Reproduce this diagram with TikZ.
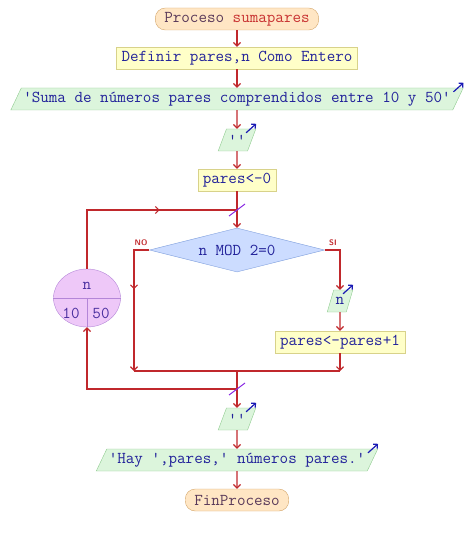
\documentclass[tikz,border=0pt]{standalone}
\usepackage{xcolor}
\usepackage{fontspec}
\usepackage{tikz}
\usetikzlibrary{shapes,arrows.meta,positioning,calc,decorations.markings}

\definecolor{flowred}{HTML}{C0282C}
\definecolor{codeblue}{HTML}{22229A}
\definecolor{kwgray}{HTML}{5A3A5A}
\definecolor{namered}{HTML}{C83232}
\definecolor{termfill}{HTML}{FFE6C4}
\definecolor{termline}{HTML}{D4A66A}
\definecolor{procfill}{HTML}{FFFFC8}
\definecolor{procline}{HTML}{D8D28A}
\definecolor{iofill}{HTML}{DCF5DC}
\definecolor{ioline}{HTML}{8FCB8F}
\definecolor{decfill}{HTML}{CCDCFF}
\definecolor{decline}{HTML}{7C9CDC}
\definecolor{loopfill}{HTML}{EEC8F8}
\definecolor{loopline}{HTML}{B486D8}
\definecolor{loopink}{HTML}{4B2FA0}
\definecolor{outblue}{HTML}{1A1AB4}
\definecolor{slashpurple}{HTML}{8A2BE2}

\newcommand{\codesize}{\ttfamily\fontsize{16.6}{19}\selectfont}

\begin{document}
\begin{tikzpicture}[x=1pt,y=-1pt,
    wire/.style={color=flowred,line width=1.2pt},
    flow/.style={wire,-{Straight Barb[length=3.5pt,width=7pt]}},
    midarrow/.style={postaction={decorate,decoration={markings,
        mark=at position #1 with {\arrow{Straight Barb[length=3.5pt,width=7pt]}}}}},
    termbox/.style={rectangle,draw=termline,fill=termfill,rounded corners=10pt,
        minimum height=22pt,inner xsep=9pt,inner ysep=2pt,font=\codesize},
    procbox/.style={rectangle,draw=procline,fill=procfill,minimum height=22pt,
        inner xsep=5pt,inner ysep=2pt,font=\codesize,text=codeblue},
    iobox/.style={trapezium,trapezium left angle=60,trapezium right angle=120,
        trapezium stretches body,draw=ioline,fill=iofill,minimum height=22pt,
        inner xsep=2pt,inner ysep=2pt,font=\codesize,text=codeblue},
    decide/.style={diamond,aspect=4,draw=decline,fill=decfill,minimum width=175pt,
        minimum height=44pt,inner sep=0pt,font=\codesize,text=codeblue},
    loopnode/.style={ellipse,draw=loopline,fill=loopfill,minimum width=67pt,
        minimum height=58pt,inner sep=0pt},
    looptext/.style={font=\codesize,text=loopink,inner sep=0pt},
    branch/.style={font=\sffamily\bfseries\fontsize{8}{9}\selectfont,text=flowred,inner sep=0pt},
    outarrow/.style={color=outblue,line width=1.2pt,-{Straight Barb[length=3pt,width=6pt]}},
    slash/.style={color=slashpurple,line width=1pt}]
    \useasboundingbox (0,0) rectangle (474,537);

    % Start and declarations
    \node[termbox] (start) at (237,19) {\textcolor{kwgray}{Proceso} \textcolor{namered}{sumapares}};
    \node[procbox] (decl) at (237,58) {Definir pares,n Como Entero};
    \node[iobox] (msg) at (237,99) {'Suma de números pares comprendidos entre 10 y 50'};
    \node[iobox] (blank1) at (237,140) {''};
    \node[procbox] (init) at (237,180) {pares<-0};

    % Loop body
    \node[decide] (cond) at (237,250) {n MOD 2=0};
    \node[iobox] (shown) at (340,301) {n};
    \node[procbox] (incr) at (340,342) {pares<-pares+1};

    % Final output
    \node[iobox] (blank2) at (237,419) {''};
    \node[iobox] (result) at (237,460) {'Hay ',pares,' números pares.'};
    \node[termbox] (stop) at (237,500) {\textcolor{kwgray}{FinProceso}};

    % Para loop header: n from 10 to 50
    \node[loopnode] (loop) at (87,298) {};
    \draw[loopline] (loop.west) -- (loop.east);
    \draw[loopline] (loop.center) -- (loop.south);
    \node[looptext] (loopvar) at (87,286) {n};
    \node[looptext] (loopfrom) at (71,313) {10};
    \node[looptext] (loopto) at (101,313) {50};

    % Main chain
    \draw[flow] (start) -- (decl);
    \draw[flow] (decl) -- (msg);
    \draw[flow] (msg) -- (blank1);
    \draw[flow] (blank1) -- (init);
    \draw[flow] (init) -- (cond);

    % Loop entry
    \coordinate (loopin) at (237,210);
    \draw[wire,midarrow=0.63] (loop.north) |- (loopin);
    \draw[slash] ($(loopin)+(-8,6)$) -- ($(loopin)+(8,-6)$);

    % Branches
    \coordinate (joinL) at (134,371);
    \coordinate (joinM) at (237,371);
    \coordinate (joinR) at (340,371);
    \draw[flow,midarrow=0.4] (cond.west) -| (joinL);
    \draw[flow] (cond.east) -| (shown.north);
    \node[branch] (nolab) at (141,243) {NO};
    \node[branch] (silab) at (333,243) {SI};
    \draw[flow] (shown) -- (incr);
    \draw[flow] (incr) -- (joinR);
    \draw[wire] (joinL) -- (joinR);

    % Loop exit and return
    \coordinate (loopout) at (237,389);
    \draw[flow] (joinM) -- (blank2);
    \draw[flow] (loopout) -| (loop.south);
    \draw[slash] ($(loopout)+(-8,6)$) -- ($(loopout)+(8,-6)$);
    \draw[flow] (blank2) -- (result);
    \draw[flow] (result) -- (stop);

    % Output marks
    \foreach \io in {msg,blank1,shown,blank2,result}
        \draw[outarrow] ([shift={(-10,4)}]\io.top right corner) -- ++(10,-9);
\end{tikzpicture}
\end{document}
